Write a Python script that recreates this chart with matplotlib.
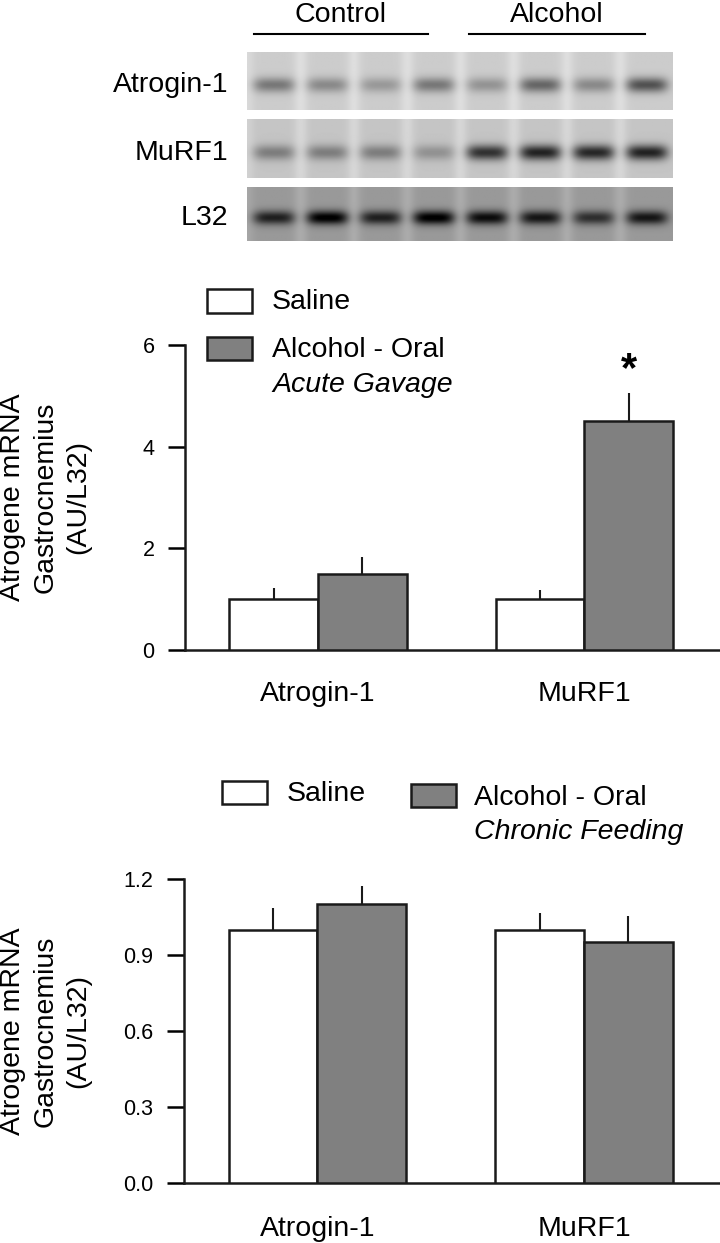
import matplotlib
matplotlib.use("Agg")
import matplotlib.pyplot as plt
from matplotlib.patches import Rectangle
import numpy as np

plt.rcParams['font.family'] = ['Liberation Sans', 'DejaVu Sans']

# ---- data ----
genes = ['Atrogin-1', 'MuRF1']
groups = ['Saline', 'Alcohol - Oral']

# acute gavage
acute_saline = [1.0, 1.0]
acute_saline_err = [0.22, 0.18]
acute_alcohol = [1.5, 4.5]
acute_alcohol_err = [0.33, 0.55]
acute_yticks = [0, 2, 4, 6]

# chronic feeding
chronic_saline = [1.0, 1.0]
chronic_saline_err = [0.085, 0.066]
chronic_alcohol = [1.10, 0.95]
chronic_alcohol_err = [0.074, 0.104]
chronic_yticks = [0.0, 0.3, 0.6, 0.9, 1.2]

# blot band darkness per lane (4 control, 4 alcohol)
blot_rows = ['Atrogin-1', 'MuRF1', 'L32']
blot_bands = {
    'Atrogin-1': [0.33, 0.26, 0.20, 0.33, 0.22, 0.40, 0.26, 0.48],
    'MuRF1': [0.28, 0.28, 0.28, 0.20, 0.58, 0.64, 0.62, 0.64],
    'L32': [0.48, 0.62, 0.48, 0.62, 0.56, 0.52, 0.42, 0.52],
}
blot_bg = {'Atrogin-1': 0.80, 'MuRF1': 0.77, 'L32': 0.60}
blot_groups = ['Control', 'Alcohol']

W, H = 720, 1243
fig = plt.figure(figsize=(W / 100, H / 100), dpi=100)
fig.patch.set_facecolor('white')


def axes_px(x0, y0, x1, y1):
    return fig.add_axes([x0 / W, 1 - y1 / H, (x1 - x0) / W, (y1 - y0) / H])


def fxy(x, y):
    return x / W, 1 - y / H


FS = 20.5
TFS = 15.5
LW = 1.8
GREY = '#808080'

# ---- blot ----
panel_y = {'Atrogin-1': (52, 110), 'MuRF1': (119, 178), 'L32': (187, 241)}
for row in blot_rows:
    y0, y1 = panel_y[row]
    h, w = 60, 428
    yy, xx = np.mgrid[0:h, 0:w]
    img = np.full((h, w), blot_bg[row])
    lw = w / 8
    for k in range(1, 8):
        img += 0.07 * np.exp(-0.5 * ((xx - k * lw) / 5.0) ** 2)
    img += 0.05 * np.exp(-0.5 * (xx / 5.0) ** 2)
    for i, d in enumerate(blot_bands[row]):
        xc = (i + 0.5) * lw
        px = np.exp(-((xx - xc) / 21.0) ** 4)
        py = np.exp(-0.5 * ((yy - 0.56 * h) / 5.5) ** 2)
        img -= d * px * py
    img = np.clip(img, 0, 1)
    bax = axes_px(246.5, y0, 672.5, y1)
    bax.imshow(img, cmap='gray', vmin=0, vmax=1, aspect='auto',
               interpolation='bilinear')
    bax.axis('off')
    fig.text(*fxy(228, (y0 + y1) / 2 + 4), row, ha='right', va='center',
             fontsize=FS)

for name, (x0, x1) in zip(blot_groups, [(254, 428), (469, 645)]):
    fig.add_artist(plt.Line2D([x0 / W, x1 / W], [1 - 34 / H] * 2,
                              color='black', lw=1.5))
    fig.text(*fxy((x0 + x1) / 2, 15), name, ha='center', va='center',
             fontsize=FS)


# ---- bar charts ----
def bar_chart(ax, sal, sal_e, alc, alc_e, yticks, ylim, fmt, xpad):
    x = np.arange(len(genes))
    bw = 0.333
    ax.bar(x - bw / 2, sal, bw, color='white', edgecolor='#1a1a1a', lw=LW,
           zorder=3)
    ax.bar(x + bw / 2, alc, bw, color=GREY, edgecolor='#1a1a1a', lw=LW,
           zorder=3)
    for xs, v, e in [(x - bw / 2, sal, sal_e), (x + bw / 2, alc, alc_e)]:
        ax.errorbar(xs, v, yerr=[np.zeros(len(e)), e], fmt='none',
                    ecolor='#1a1a1a', elinewidth=1.5, capsize=0, zorder=2)
    ax.set_xlim(-0.5, 1.51)
    ax.set_ylim(*ylim)
    ax.set_yticks(yticks)
    ax.set_yticklabels([fmt.format(t) for t in yticks], fontsize=TFS)
    ax.set_xticks(x)
    ax.set_xticklabels(genes, fontsize=FS)
    ax.tick_params(axis='x', length=0, pad=xpad)
    ax.tick_params(axis='y', length=12, width=LW, pad=10, direction='out')
    for s in ['top', 'right']:
        ax.spines[s].set_visible(False)
    for s in ['left', 'bottom']:
        ax.spines[s].set_linewidth(LW)
        ax.spines[s].set_color('#1a1a1a')
    ax.set_facecolor('none')


ylab = 'Atrogene mRNA\nGastrocnemius\n(AU/L32)'

ax1 = axes_px(185, 345, 720, 650)
bar_chart(ax1, acute_saline, acute_saline_err, acute_alcohol,
          acute_alcohol_err, acute_yticks, (0, 6), '{:.0f}', 22)
ax1.text(1 + 0.333 / 2, acute_alcohol[1] + acute_alcohol_err[1] + 0.45, '*',
         ha='center', va='center', fontsize=30, fontweight='bold')
fig.text(*fxy(91, 497), ylab, rotation=90, ha='right', va='center',
         multialignment='center', fontsize=FS, linespacing=1.32)

ax2 = axes_px(184, 879, 720, 1183)
bar_chart(ax2, chronic_saline, chronic_saline_err, chronic_alcohol,
          chronic_alcohol_err, chronic_yticks, (0, 1.2), '{:.1f}', 24)
fig.text(*fxy(91, 1031), ylab, rotation=90, ha='right', va='center',
         multialignment='center', fontsize=FS, linespacing=1.32)


# ---- legends ----
def legend_box(x0, y0, x1, y1, color):
    fig.add_artist(Rectangle(fxy(x0, y1), (x1 - x0) / W, (y1 - y0) / H,
                             facecolor=color, edgecolor='#1a1a1a', lw=LW,
                             transform=fig.transFigure))


legend_box(207, 289, 252, 313, 'white')
fig.text(*fxy(272, 302), groups[0], ha='left', va='center', fontsize=FS)
legend_box(207, 337, 252, 360, GREY)
fig.text(*fxy(272, 350), groups[1], ha='left', va='center', fontsize=FS)
fig.text(*fxy(272, 385), 'Acute Gavage', ha='left', va='center',
         fontsize=FS, style='italic')

legend_box(222, 781, 267, 804, 'white')
fig.text(*fxy(287, 794), groups[0], ha='left', va='center', fontsize=FS)
legend_box(411, 784, 456, 807, GREY)
fig.text(*fxy(474, 798), groups[1], ha='left', va='center', fontsize=FS)
fig.text(*fxy(474, 832), 'Chronic Feeding', ha='left', va='center',
         fontsize=FS, style='italic')

fig.savefig('out.png', dpi=100)
